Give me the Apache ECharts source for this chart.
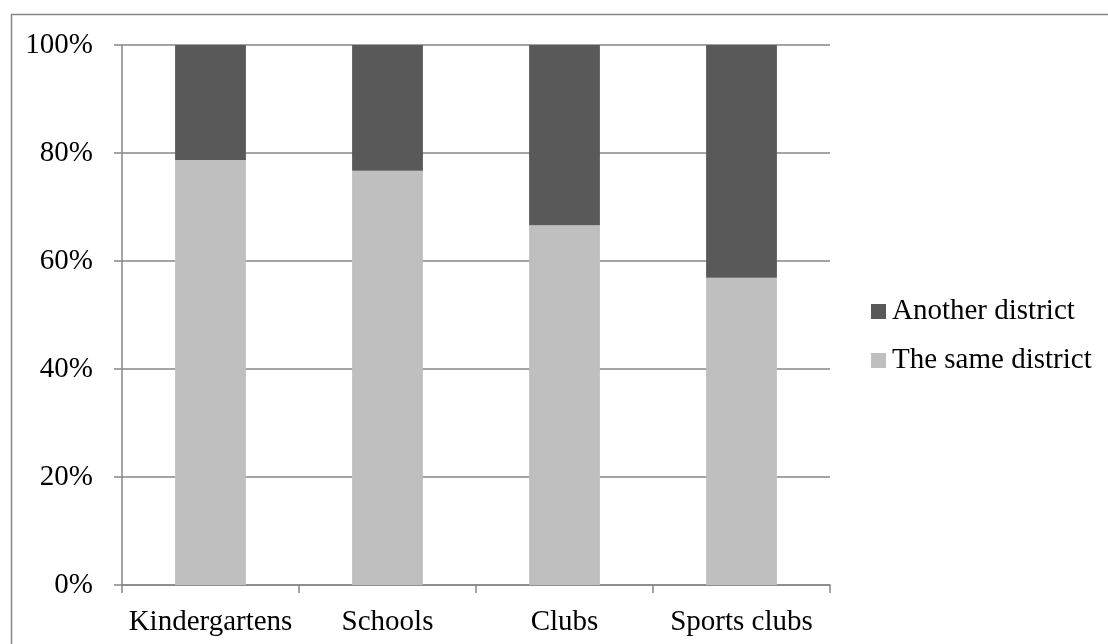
<!DOCTYPE html>
<html>
<head>
<meta charset="utf-8">
<script src="https://cdn.jsdelivr.net/npm/echarts@6/dist/echarts.min.js"></script>
<style>
html,body{margin:0;padding:0;background:#fff;}
#chart{width:1108px;height:644px;}
</style>
</head>
<body>
<div id="chart"></div>
<script>
const categories = ['Kindergartens', 'Schools', 'Clubs', 'Sports clubs'];
const sameDistrict = [78.7, 76.7, 66.6, 56.9];
const anotherDistrict = [21.3, 23.3, 33.4, 43.1];
const yTicks = [0, 20, 40, 60, 80, 100];

const FONT = '"Liberation Serif", "Times New Roman", serif';
const GRID = '#868686';
const chart = echarts.init(document.getElementById('chart'), null, {renderer: 'canvas'});
chart.setOption({
  animation: false,
  backgroundColor: '#fff',
  textStyle: {fontFamily: FONT, color: '#000'},
  graphic: [{
    type: 'rect',
    shape: {x: 11.5, y: 14.5, width: 1120, height: 660},
    style: {fill: 'none', stroke: GRID, lineWidth: 1.5},
    silent: true, z: -1
  }],
  grid: {left: 122, right: 278, top: 45, bottom: 59, containLabel: false},
  legend: {
    orient: 'vertical',
    left: 866,
    top: 292,
    itemWidth: 15,
    itemHeight: 15,
    itemGap: 20,
    icon: 'rect',
    data: ['Another district', 'The same district'],
    textStyle: {fontFamily: FONT, fontSize: 29, color: '#000', padding: [0, 0, 0, 1]}
  },
  xAxis: {
    type: 'category',
    data: categories,
    axisLine: {lineStyle: {color: GRID, width: 1.5}},
    axisTick: {show: true, length: 8, alignWithLabel: false, lineStyle: {color: GRID, width: 1.5}},
    axisLabel: {fontFamily: FONT, fontSize: 29, color: '#000', margin: 23, interval: 0},
    splitLine: {show: false}
  },
  yAxis: {
    type: 'value',
    min: yTicks[0],
    max: yTicks[yTicks.length - 1],
    interval: yTicks[1] - yTicks[0],
    axisLine: {show: true, lineStyle: {color: GRID, width: 1.5}},
    axisTick: {show: true, length: 8, lineStyle: {color: GRID, width: 1.5}},
    axisLabel: {fontFamily: FONT, fontSize: 29, color: '#000', margin: 29, formatter: '{value}%'},
    splitLine: {show: true, lineStyle: {color: GRID, width: 1.5}}
  },
  series: [
    {
      name: 'The same district',
      type: 'bar',
      stack: 'total',
      barWidth: '40%',
      data: sameDistrict,
      itemStyle: {color: '#bfbfbf'}
    },
    {
      name: 'Another district',
      type: 'bar',
      stack: 'total',
      barWidth: '40%',
      data: anotherDistrict,
      itemStyle: {color: '#595959'}
    }
  ]
});
</script>
</body>
</html>
